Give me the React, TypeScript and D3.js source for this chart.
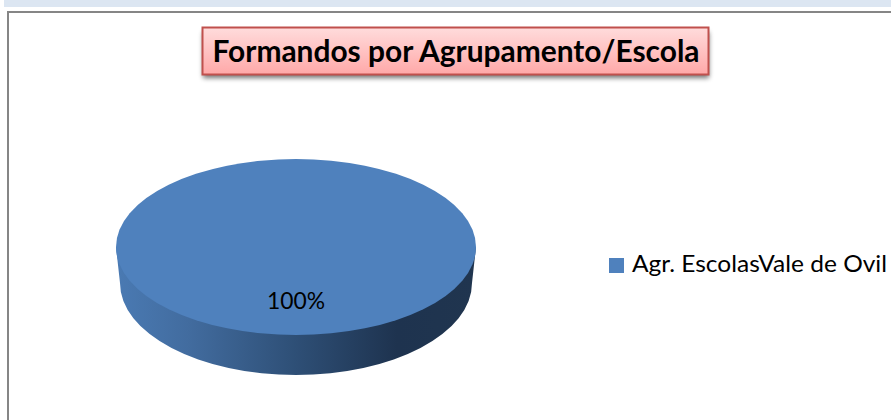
import React from "react";
import * as d3 from "d3";

const categories = ["Agr. EscolasVale de Ovil"];
const seriesValues = [100];
const chartTitle = "Formandos por Agrupamento/Escola";

const W = 891, H = 420;
const FONT = "Lato, Carlito, 'Open Sans', sans-serif";

export default function App() {
  const cx = 296, cy = 247, rx = 180, ry = 88, bottomRx = 176;
  const pieData = d3.pie<number>().sort(null)(seriesValues);
  const total = d3.sum(seriesValues);
  const pct = d3.format(".0%");
  const arc = d3.arc<d3.PieArcDatum<number>>().innerRadius(0).outerRadius(rx);
  const side = `M${cx - rx},${cy} L${cx - bottomRx},${cy + 36} A${bottomRx},${ry + 4} 0 0 0 ${cx + bottomRx},${cy + 36} L${cx + rx},${cy} Z`;
  return (
    <svg width={W} height={H} viewBox={`0 0 ${W} ${H}`} style={{ position: "fixed", left: 0, top: 0, display: "block" }}>
      <defs>
        <linearGradient id="side" x1="0" x2="1" y1="0" y2="0">
          <stop offset="0" stopColor="#4a7ab3" />
          <stop offset="0.2" stopColor="#426c9f" />
          <stop offset="0.5" stopColor="#2e4f76" />
          <stop offset="0.78" stopColor="#1e334f" />
          <stop offset="1" stopColor="#20354f" />
        </linearGradient>
        <linearGradient id="titleFill" x1="0" x2="0" y1="0" y2="1">
          <stop offset="0" stopColor="#ffdcdc" />
          <stop offset="1" stopColor="#ffa8a8" />
        </linearGradient>
        <filter id="shadow" x="-5%" y="-20%" width="110%" height="150%">
          <feGaussianBlur stdDeviation="2.5" />
        </filter>
      </defs>
      <rect x={0} y={0} width={W} height={H} fill="#ffffff" />
      <rect x={4} y={0} width={W - 4} height={7} fill="#dce6f2" />
      <path d={`M${W},12 H8 V${H}`} fill="none" stroke="#868686" strokeWidth={2} />
      <rect x={203} y={32} width={506} height={46} fill="#000" opacity={0.55} filter="url(#shadow)" />
      <rect x={202.5} y={27.5} width={506} height={47} fill="url(#titleFill)" stroke="#c0504d" strokeWidth={2} />
      <text x={456} y={62} textAnchor="middle" fontFamily={FONT} fontWeight={700} fontSize={31} fill="#000" textLength={487} lengthAdjust="spacingAndGlyphs">{chartTitle}</text>
      <path d={side} fill="url(#side)" />
      <g transform={`translate(${cx},${cy}) scale(1,${ry / rx})`}>
        {pieData.map((d, i) => <path key={i} d={arc(d) ?? ""} fill="#4f81bd" />)}
      </g>
      {pieData.map((d, i) => (
        <text key={i} x={296} y={309} textAnchor="middle" fontFamily={FONT} fontSize={24} fill="#000" textLength={58} lengthAdjust="spacingAndGlyphs">{pct(d.value / total)}</text>
      ))}
      <rect x={609} y={258} width={15} height={15} fill="#4f81bd" />
      <text x={632} y={272} fontFamily={FONT} fontSize={24} fill="#000" textLength={255} lengthAdjust="spacingAndGlyphs">{categories[0]}</text>
    </svg>
  );
}
